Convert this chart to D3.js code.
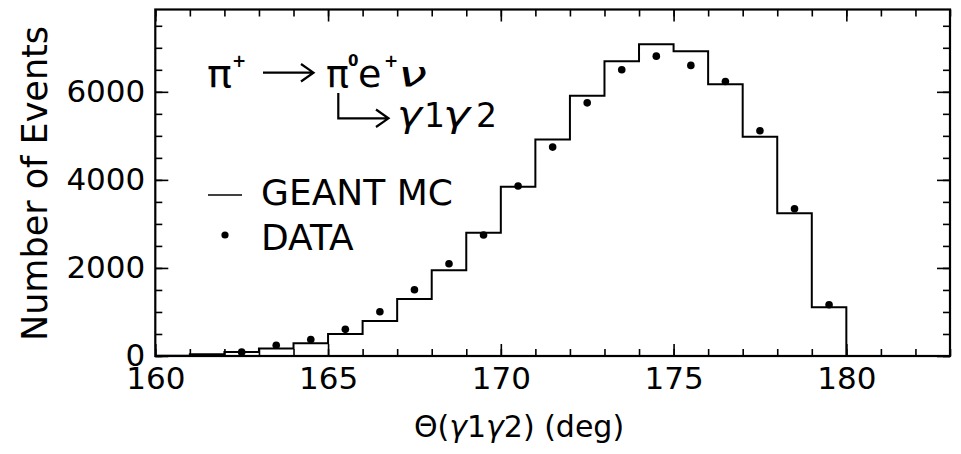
<!DOCTYPE html>
<html>
<head>
<meta charset="utf-8">
<script src="https://cdn.jsdelivr.net/npm/d3@7"></script>
<style>
  body { margin: 0; background: #fff; }
  svg { display: block; }
  text { font-family: "DejaVu Sans", sans-serif; fill: #000; }
</style>
</head>
<body>
<svg width="961" height="454"></svg>
<script>
//--------------------------DATA------------------------------------------------
// MC histogram: 1 deg bins, lower edges and counts
var mcBinStart = [160, 161, 162, 163, 164, 165, 166, 167, 168, 169,
                  170, 171, 172, 173, 174, 175, 176, 177, 178, 179];
var mcCounts   = [5, 40, 90, 170, 288, 500, 795, 1294, 1946, 2800,
                  3845, 4920, 5910, 6697, 7083, 6924, 6175, 4979, 3240, 1105];
var binWidth = 1;

// measured data points at bin centres
var dataAngle  = [162.5, 163.5, 164.5, 165.5, 166.5, 167.5, 168.5, 169.5, 170.5,
                  171.5, 172.5, 173.5, 174.5, 175.5, 176.5, 177.5, 178.5, 179.5];
var dataCounts = [88, 245, 375, 605, 1006, 1506, 2096, 2747, 3860,
                  4745, 5750, 6500, 6810, 6600, 6236, 5115, 3344, 1165];

var xMajorTicks = [160, 165, 170, 175, 180];
var yMajorTicks = [0, 2000, 4000, 6000];
var xDomain = [160, 183];
var yDomain = [0, 7870];

//--------------------------SETUP-----------------------------------------------
var svg = d3.select("svg");
var plot = { left: 155.3, right: 950, top: 9.5, bottom: 356 };

var x = d3.scaleLinear().domain(xDomain).range([plot.left, plot.right]);
var y = d3.scaleLinear().domain(yDomain).range([plot.bottom, plot.top]);

var xMinor = d3.range(xDomain[0], xDomain[1] + 0.001, 1);
var yMinor = d3.range(0, yDomain[1], 500);

// draw an axis with inward ticks and optional labels
function drawAxis(axis, tx, ty, labels, fontSize) {
    var g = svg.append("g")
        .attr("transform", "translate(" + tx + "," + ty + ")")
        .call(axis);
    g.select(".domain").remove();
    g.selectAll(".tick line").attr("stroke", "#000").attr("stroke-width", 1.6);
    if (!labels) {
        g.selectAll(".tick text").remove();
    } else {
        g.selectAll(".tick text")
            .attr("fill", "#000")
            .style("font-size", fontSize + "px")
            .style("font-family", "'DejaVu Sans', sans-serif");
    }
    return g;
}

// bottom
drawAxis(d3.axisBottom(x).tickValues(xMinor).tickSizeInner(-7).tickSizeOuter(0), 0, plot.bottom, false);
drawAxis(d3.axisBottom(x).tickValues(xMajorTicks).tickSizeInner(-12).tickSizeOuter(0)
    .tickPadding(11).tickFormat(d3.format("d")), 0, plot.bottom, true, 31);
// top
drawAxis(d3.axisTop(x).tickValues(xMinor).tickSizeInner(-7).tickSizeOuter(0), 0, plot.top, false);
drawAxis(d3.axisTop(x).tickValues(xMajorTicks).tickSizeInner(-12).tickSizeOuter(0), 0, plot.top, false);
// left
drawAxis(d3.axisLeft(y).tickValues(yMinor).tickSizeInner(-7).tickSizeOuter(0), plot.left, 0, false);
drawAxis(d3.axisLeft(y).tickValues(yMajorTicks).tickSizeInner(-13).tickSizeOuter(0)
    .tickPadding(10).tickFormat(d3.format("d")), plot.left, 0, true, 31);
// right
drawAxis(d3.axisRight(y).tickValues(yMinor).tickSizeInner(-7).tickSizeOuter(0), plot.right, 0, false);
drawAxis(d3.axisRight(y).tickValues(yMajorTicks).tickSizeInner(-13).tickSizeOuter(0), plot.right, 0, false);

// frame
svg.append("rect")
    .attr("x", plot.left).attr("y", plot.top)
    .attr("width", plot.right - plot.left).attr("height", plot.bottom - plot.top)
    .attr("fill", "none").attr("stroke", "#000").attr("stroke-width", 2.2);

//--------------------------HISTOGRAM-------------------------------------------
var steps = [];
mcBinStart.forEach(function(b, i) { steps.push({ x: b, v: mcCounts[i] }); });
steps.push({ x: mcBinStart[mcBinStart.length - 1] + binWidth, v: 0 });
steps.push({ x: xDomain[1], v: 0 });

var stepLine = d3.line()
    .x(function(d) { return x(d.x); })
    .y(function(d) { return y(d.v); })
    .curve(d3.curveStepAfter);

svg.append("path")
    .datum(steps)
    .attr("d", stepLine)
    .attr("fill", "none")
    .attr("stroke", "#000")
    .attr("stroke-width", 2);

// data points
svg.selectAll(".dot")
    .data(dataAngle)
    .enter().append("circle")
    .attr("class", "dot")
    .attr("cx", function(d) { return x(d); })
    .attr("cy", function(d, i) { return y(dataCounts[i]); })
    .attr("r", 3.8)
    .attr("fill", "#000");

//--------------------------LABELS----------------------------------------------
svg.append("text")
    .attr("x", 519).attr("y", 437)
    .attr("text-anchor", "middle")
    .style("font-size", "30px")
    .html('Θ(<tspan font-style="italic">γ</tspan>1<tspan font-style="italic">γ</tspan>2) (deg)');

svg.append("text")
    .attr("transform", "translate(47,183.5) rotate(-90)")
    .attr("text-anchor", "middle")
    .style("font-size", "35px")
    .text("Number of Events");

// decay annotation
var ann = svg.append("g");
function label(px, py, size, str, style, weight, len) {
    var t = ann.append("text")
        .attr("x", px).attr("y", py)
        .style("font-size", size + "px")
        .style("font-style", style || "normal")
        .style("font-weight", weight || "normal")
        .text(str);
    if (len) t.attr("textLength", len).attr("lengthAdjust", "spacingAndGlyphs");
    return t;
}
label(207, 87, 38, "π", null, null, 25);
label(232, 67, 17, "+", null, "bold");
label(326, 87, 38, "π", null, null, 23);
label(348, 66, 15, "0", null, "bold");
label(358, 87, 38, "e");
label(384, 67, 17, "+", null, "bold");
label(398, 87, 36, "ν", "italic", null, 29);
label(397, 127, 36, "γ", "italic", null, 25);
label(424, 127, 33, "1");
label(443, 127, 36, "γ", "italic", null, 27);
label(476, 127, 33, "2");

var arrowStyle = function(p) {
    return p.attr("fill", "none").attr("stroke", "#000").attr("stroke-width", 2.2)
        .attr("stroke-linejoin", "miter");
};
arrowStyle(ann.append("path").attr("d", "M263,72.7H313M301,64L313.5,72.7L301,81.5"));
arrowStyle(ann.append("path").attr("d", "M338.3,93V118.3H388M376,109.5L388.5,118.3L376,127"));

// legend
svg.append("line")
    .attr("x1", 208).attr("x2", 242).attr("y1", 195).attr("y2", 195)
    .attr("stroke", "#000").attr("stroke-width", 1.6);
svg.append("text").attr("x", 261).attr("y", 205).style("font-size", "36px").text("GEANT MC");
svg.append("circle").attr("cx", 225).attr("cy", 235).attr("r", 3.6).attr("fill", "#000");
svg.append("text").attr("x", 261).attr("y", 250).style("font-size", "36px").text("DATA");
</script>
</body>
</html>
